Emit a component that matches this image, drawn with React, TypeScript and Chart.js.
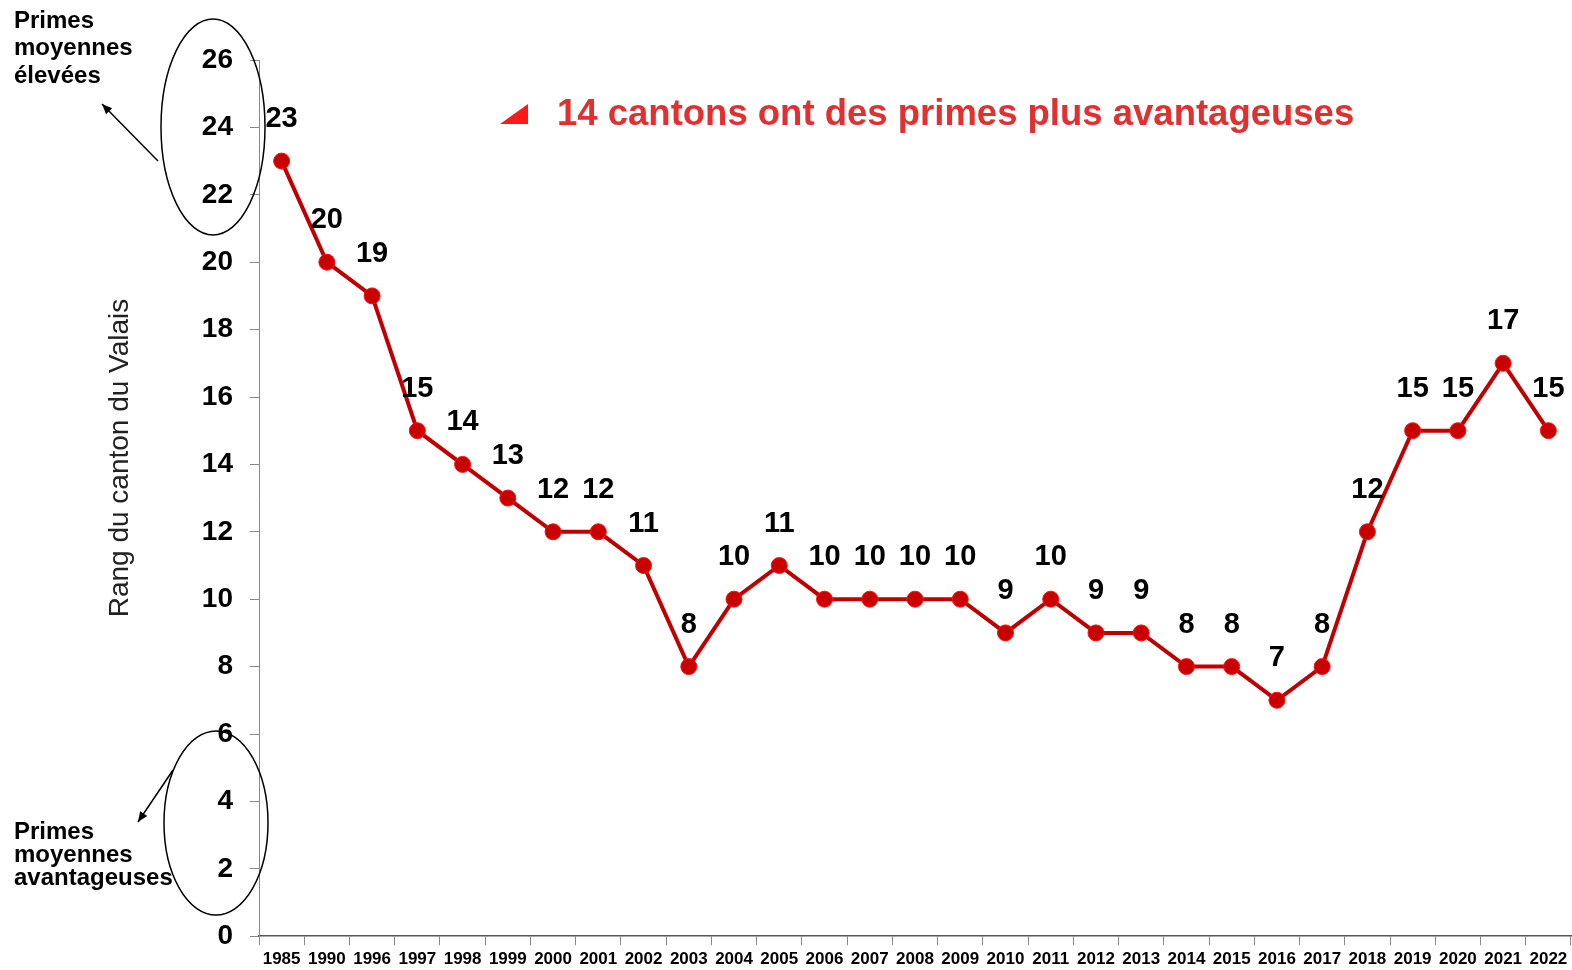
import React, { useEffect, useRef } from "react";
import { Chart, registerables } from "chart.js";

Chart.register(...registerables);

const years = ["1985","1990","1996","1997","1998","1999","2000","2001","2002","2003","2004","2005","2006","2007","2008","2009","2010","2011","2012","2013","2014","2015","2016","2017","2018","2019","2020","2021","2022"];
const ranks = [23,20,19,15,14,13,12,12,11,8,10,11,10,10,10,10,9,10,9,9,8,8,7,8,12,15,15,17,15];
const yTitle = "Rang du canton du Valais";
const headline = "14 cantons ont des primes plus avantageuses";
const topNote = ["Primes", "moyennes", "élevées"];
const bottomNote = ["Primes", "moyennes", "avantageuses"];

const FONT = "'Liberation Sans', Arial, sans-serif";

const decor = {
  id: "decor",
  afterDraw(chart: any) {
    const ctx = chart.ctx as CanvasRenderingContext2D;
    const meta = chart.getDatasetMeta(0);
    ctx.save();
    // data labels
    ctx.fillStyle = "#000";
    ctx.font = `bold 29px ${FONT}`;
    ctx.textAlign = "center";
    ctx.textBaseline = "middle";
    meta.data.forEach((pt: any, i: number) => {
      ctx.fillText(String(ranks[i]), pt.x, pt.y - 42);
    });
    // headline
    ctx.fillStyle = "#ff1a1a";
    ctx.beginPath();
    ctx.moveTo(500, 124);
    ctx.lineTo(528, 124);
    ctx.lineTo(528, 104);
    ctx.closePath();
    ctx.fill();
    ctx.fillStyle = "#e03030";
    ctx.font = `bold 36.5px ${FONT}`;
    ctx.textAlign = "left";
    ctx.fillText(headline, 557, 115);
    // y title
    ctx.save();
    ctx.translate(120, 458);
    ctx.rotate(-Math.PI / 2);
    ctx.textAlign = "center";
    ctx.fillStyle = "#222";
    ctx.font = `28px ${FONT}`;
    ctx.fillText(yTitle, 0, 0);
    ctx.restore();
    // notes
    ctx.fillStyle = "#000";
    ctx.font = `bold 24px ${FONT}`;
    ctx.textAlign = "left";
    topNote.forEach((t, i) => ctx.fillText(t, 14, 21 + i * 27.5));
    bottomNote.forEach((t, i) => ctx.fillText(t, 14, 832 + i * 23));
    // ellipses
    ctx.strokeStyle = "#000";
    ctx.lineWidth = 1.5;
    ctx.beginPath();
    ctx.ellipse(213, 127, 52, 108, 0, 0, Math.PI * 2);
    ctx.stroke();
    ctx.beginPath();
    ctx.ellipse(216, 823, 52, 92, 0, 0, Math.PI * 2);
    ctx.stroke();
    // arrows
    const arrow = (x1: number, y1: number, x2: number, y2: number) => {
      ctx.beginPath();
      ctx.moveTo(x1, y1);
      ctx.lineTo(x2, y2);
      ctx.stroke();
      const a = Math.atan2(y2 - y1, x2 - x1);
      const L = 11, w = 0.4;
      ctx.beginPath();
      ctx.moveTo(x2, y2);
      ctx.lineTo(x2 - L * Math.cos(a - w), y2 - L * Math.sin(a - w));
      ctx.lineTo(x2 - L * Math.cos(a + w), y2 - L * Math.sin(a + w));
      ctx.closePath();
      ctx.fill();
    };
    arrow(158, 161, 102, 104);
    arrow(173, 770, 138, 822);
    ctx.restore();
  },
};

export default function App() {
  const ref = useRef<HTMLCanvasElement>(null);
  useEffect(() => {
    document.body.style.margin = "0";
    document.body.style.overflow = "hidden";
    const chart = new Chart(ref.current!, {
      type: "line",
      data: {
        labels: years,
        datasets: [
          {
            data: ranks,
            borderColor: "#c00000",
            borderWidth: 4,
            pointRadius: 8,
            pointBackgroundColor: "#c80000",
            pointBorderColor: "#ff1010",
            pointBorderWidth: 1,
            tension: 0,
            clip: false,
          },
        ],
      },
      options: {
        responsive: false,
        animation: false,
        layout: { autoPadding: false, padding: { top: 60, right: 1, left: 0, bottom: 0 } },
        plugins: { legend: { display: false }, tooltip: { enabled: false } },
        scales: {
          x: {
            offset: true,
            afterFit: (s: any) => { s.height = 33; s.paddingRight = 0; s.paddingLeft = 0; },
            grid: { offset: true, drawOnChartArea: false, tickLength: 9, color: "#888" },
            border: { color: "#555", width: 1.5 },
            ticks: {
              autoSkip: false,
              maxRotation: 0,
              color: "#000",
              padding: 4,
              font: { family: FONT, size: 17, weight: "bold" },
            },
          },
          y: {
            min: 0,
            max: 26,
            afterFit: (s: any) => { s.width = 259; },
            grid: { drawOnChartArea: false, tickLength: 9, color: "#888" },
            border: { color: "#888", width: 1 },
            ticks: {
              stepSize: 2,
              color: "#000",
              padding: 17,
              font: { family: FONT, size: 28, weight: "bold" },
            },
          },
        },
      },
      plugins: [decor],
    });
    return () => chart.destroy();
  }, []);
  return <canvas ref={ref} width={1572} height={970} style={{ display: "block" }} />;
}
